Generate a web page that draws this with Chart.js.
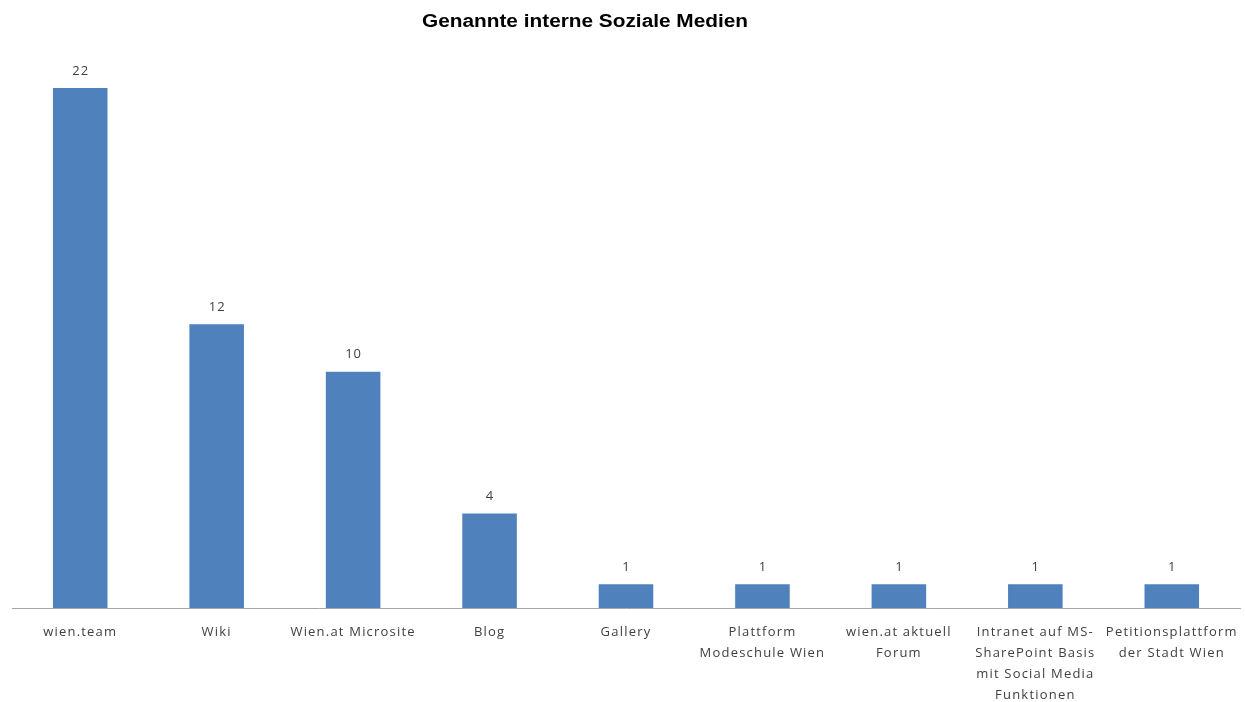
<!DOCTYPE html>
<html>
<head>
<meta charset="utf-8">
<script src="https://cdn.jsdelivr.net/npm/chart.js@4/dist/chart.umd.min.js"></script>
<style>
html,body{margin:0;padding:0;background:#fff;}
#wrap{position:relative;width:1245px;height:702px;}
</style>
</head>
<body>
<div id="wrap"><canvas id="c" width="1245" height="702"></canvas></div>
<script>
const chartTitle = "Genannte interne Soziale Medien";
const categories = [
  ["wien.team"],
  ["Wiki"],
  ["Wien.at Microsite"],
  ["Blog"],
  ["Gallery"],
  ["Plattform", "Modeschule Wien"],
  ["wien.at aktuell", "Forum"],
  ["Intranet auf MS-", "SharePoint Basis", "mit Social Media", "Funktionen"],
  ["Petitionsplattform", "der Stadt Wien"]
];
const values = [22, 12, 10, 4, 1, 1, 1, 1, 1];

const spacingPlugin = {
  id: 'spacing',
  beforeDraw(chart) { chart.ctx.letterSpacing = '1.2px'; }
};

const labelPlugin = {
  id: 'valueLabels',
  afterDatasetsDraw(chart) {
    const ctx = chart.ctx;
    const meta = chart.getDatasetMeta(0);
    ctx.save();
    ctx.letterSpacing = '1px';
    ctx.font = '13px "Open Sans", "Noto Sans", sans-serif';
    ctx.fillStyle = '#404040';
    ctx.textAlign = 'center';
    ctx.textBaseline = 'middle';
    meta.data.forEach((bar, i) => {
      ctx.fillText(String(values[i]), bar.x + 0.5, bar.y - 17);
    });
    ctx.restore();
  }
};

const titlePlugin = {
  id: 'customTitle',
  afterDraw(chart) {
    const ctx = chart.ctx;
    ctx.save();
    ctx.letterSpacing = '0px';
    ctx.translate(585, 22);
    ctx.scale(1.156, 1);
    ctx.font = 'bold 18px "Liberation Sans", Arial, sans-serif';
    ctx.fillStyle = '#000000';
    ctx.textAlign = 'center';
    ctx.textBaseline = 'middle';
    ctx.fillText(chartTitle, 0, 0);
    ctx.restore();
  }
};

new Chart(document.getElementById('c'), {
  type: 'bar',
  data: {
    labels: categories,
    datasets: [{
      data: values,
      backgroundColor: '#4f81bd',
      barPercentage: 0.4,
      categoryPercentage: 1.0
    }]
  },
  options: {
    responsive: false,
    animation: false,
    layout: { padding: { top: 88, left: 12, right: 5, bottom: 0 } },
    plugins: { legend: { display: false }, tooltip: { enabled: false }, title: { display: false } },
    scales: {
      y: { display: false, min: 0, max: 22 },
      x: {
        grid: { display: false },
        border: { display: true, color: '#a6a6a6', width: 1 },
        ticks: {
          autoSkip: false, maxRotation: 0, minRotation: 0, padding: 6,
          color: '#404040',
          font: { family: '"Open Sans", "Noto Sans", sans-serif', size: 13, lineHeight: 1.6 }
        },
        afterFit(scale) { scale.height = 94; }
      }
    }
  },
  plugins: [spacingPlugin, labelPlugin, titlePlugin]
});
</script>
</body>
</html>
